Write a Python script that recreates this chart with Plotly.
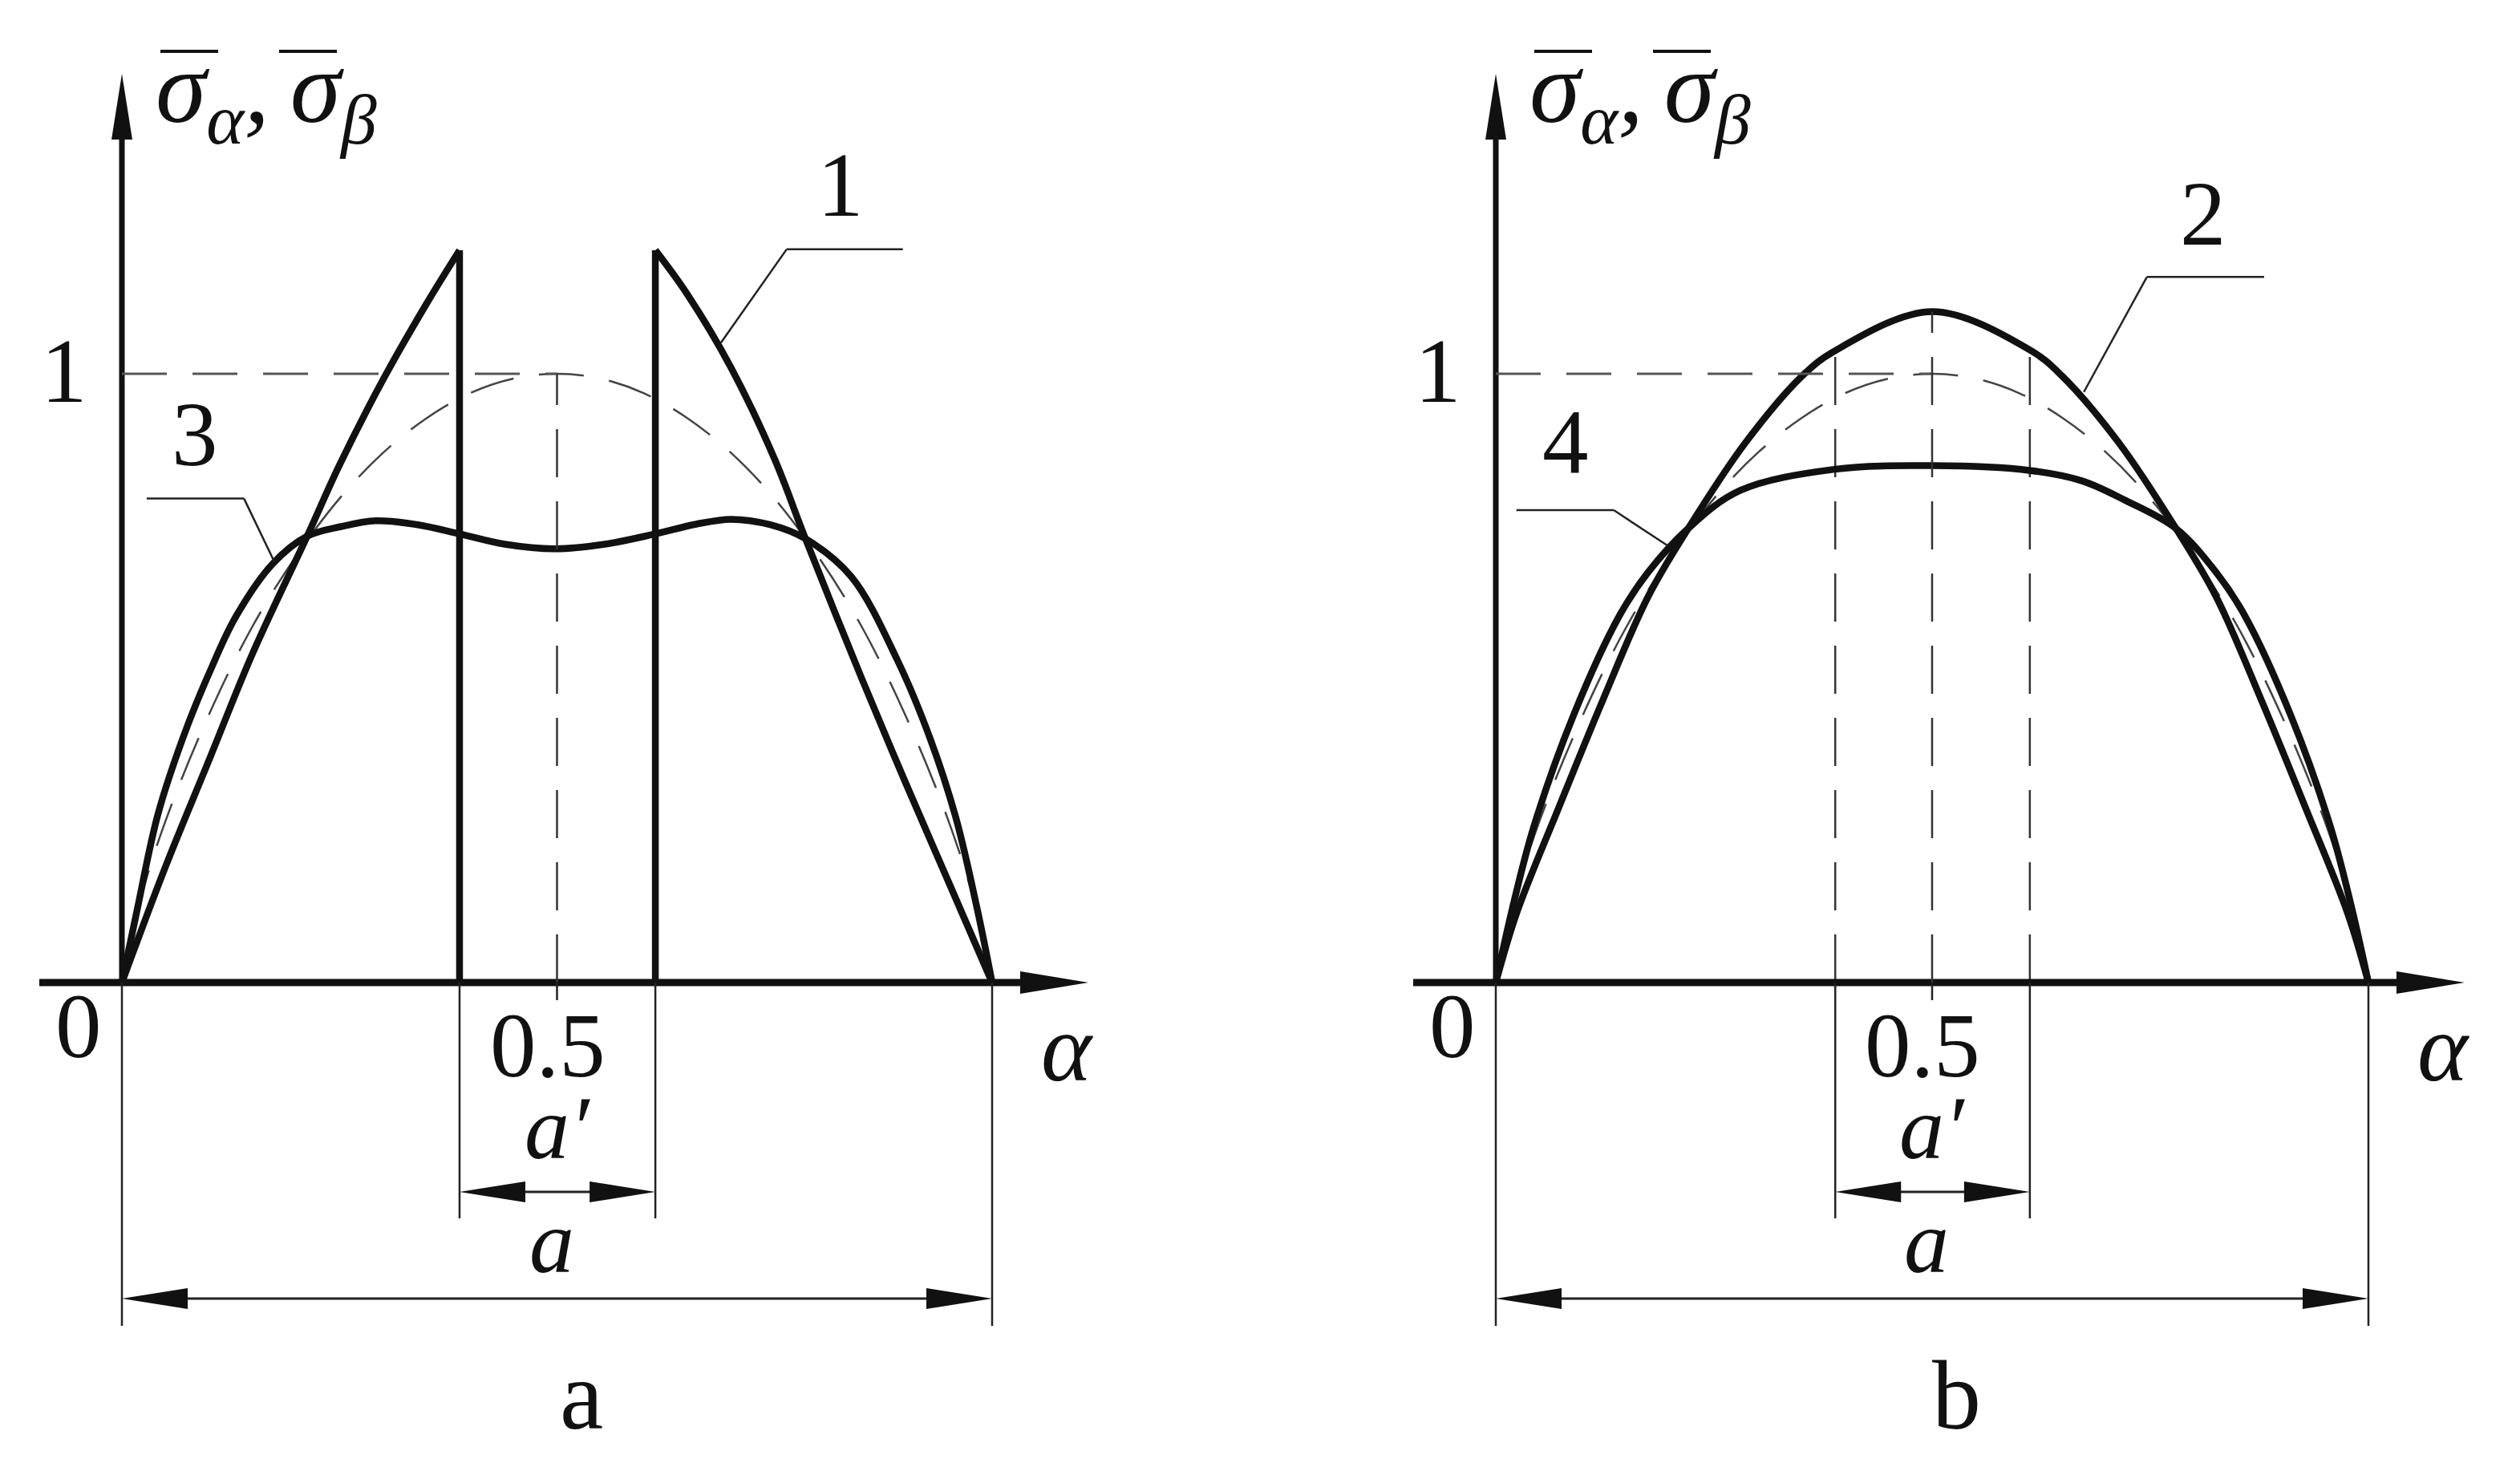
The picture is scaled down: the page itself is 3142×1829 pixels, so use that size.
import plotly.graph_objects as go

# ---------------- data ----------------
# dashed reference curve (same in both panels)
ref_alpha = [0, 0.02, 0.05, 0.10, 0.15, 0.20, 0.25, 0.30, 0.35, 0.40, 0.45, 0.50,
             0.55, 0.60, 0.65, 0.70, 0.75, 0.80, 0.85, 0.90, 0.95, 0.98, 1.0]
ref_sigma = [0, 0.13, 0.265, 0.44, 0.585, 0.70, 0.795, 0.87, 0.927, 0.968, 0.992, 1.0,
             0.992, 0.968, 0.927, 0.87, 0.795, 0.70, 0.585, 0.44, 0.265, 0.13, 0]

# curve 1 (panel a): rising part, gap a', falling part
c1_rise_alpha = [0, 0.05, 0.10, 0.15, 0.2128, 0.25, 0.30, 0.35, 0.388]
c1_rise_sigma = [0, 0.19, 0.365, 0.54, 0.733, 0.85, 0.99, 1.115, 1.203]
c1_fall_alpha = [0.613, 0.65, 0.70, 0.75, 0.7855, 0.85, 0.90, 0.95, 1.0]
c1_fall_sigma = [1.203, 1.13, 1.01, 0.86, 0.729, 0.50, 0.33, 0.165, 0]

# curve 3 (panel a)
c3_alpha = [0, 0.017, 0.0415, 0.0712, 0.1008, 0.1305, 0.1733, 0.2128, 0.252, 0.2918,
            0.34, 0.388, 0.44, 0.4975, 0.555, 0.613, 0.66, 0.6999, 0.745, 0.7855,
            0.838, 0.891, 0.929, 0.9585, 0.983, 1.0]
c3_sigma = [0, 0.116, 0.277, 0.406, 0.51, 0.600, 0.688, 0.733, 0.749, 0.7585,
            0.752, 0.737, 0.72, 0.7125, 0.72, 0.737, 0.753, 0.761, 0.752, 0.729,
            0.667, 0.53, 0.40, 0.27, 0.12, 0]

# curve 2 (panel b)
c2_alpha = [0, 0.0236, 0.0729, 0.1221, 0.1746, 0.2206, 0.2862, 0.3519, 0.3879, 0.5,
            0.6121, 0.6481, 0.7138, 0.7794, 0.8254, 0.8779, 0.9271, 0.9764, 1.0]
c2_sigma = [0, 0.113, 0.29, 0.462, 0.634, 0.746, 0.887, 0.9975, 1.037, 1.102,
            1.039, 0.9975, 0.887, 0.746, 0.634, 0.462, 0.29, 0.113, 0]

# curve 4 (panel b)
c4_alpha = [0, 0.0187, 0.0433, 0.0893, 0.1418, 0.1746, 0.2206, 0.2797, 0.3879, 0.5,
            0.613, 0.672, 0.7215, 0.7794, 0.8254, 0.8582, 0.9107, 0.9567, 0.9813, 1.0]
c4_sigma = [0, 0.12, 0.255, 0.44, 0.603, 0.674, 0.746, 0.808, 0.843, 0.849,
            0.841, 0.824, 0.792, 0.746, 0.674, 0.603, 0.44, 0.255, 0.12, 0]

# gap a' limits
gap_a = [0.388, 0.613]        # panel a
gap_b = [0.389, 0.612]        # panel b

# ---------------- layout geometry ----------------
W, H = 3142, 1829
PY0, PY1 = 1225, 466                 # pixel rows of sigma=0 and sigma=1
SCALE = {'x': 1085.0, 'x2': 1088.0}  # pixels per alpha unit
X0PIX = {'x': 152.0, 'x2': 1865.0}   # pixel column of alpha=0
YS = PY0 - PY1                       # pixels per sigma unit
half = W / 2

xr_L = [-X0PIX['x'] / SCALE['x'], (half - X0PIX['x']) / SCALE['x']]
xr_R = [-(X0PIX['x2'] - half) / SCALE['x2'], (W - X0PIX['x2']) / SCALE['x2']]
yr = [-(H - PY0) / YS, PY0 / YS]

def dx(px, xr):  # pixels -> alpha units
    return px / SCALE[xr]

def dy(px):
    return px / YS

BLACK = '#111111'
FONT = 'Liberation Serif'
THICK = 8.5

fig = go.Figure()

def add_line(xs, ys, xref, width=THICK, dash=None, color=BLACK, shape='linear'):
    fig.add_trace(go.Scatter(
        x=xs, y=ys, mode='lines', xaxis=xref, yaxis='y',
        line=dict(color=color, width=width, dash=dash, shape=shape, smoothing=1.0),
        hoverinfo='skip', showlegend=False))

DASH = '56px,32px'

# ---- panel a ----
add_line(ref_alpha, ref_sigma, 'x', width=2.5, dash=DASH, color='#444444', shape='spline')
add_line(c1_rise_alpha, c1_rise_sigma, 'x', shape='spline')
add_line([gap_a[0], gap_a[0]], [c1_rise_sigma[-1], 0], 'x')
add_line([gap_a[1], gap_a[1]], [0, c1_fall_sigma[0]], 'x')
add_line(c1_fall_alpha, c1_fall_sigma, 'x', shape='spline')
add_line(c3_alpha, c3_sigma, 'x', shape='spline')

# ---- panel b ----
add_line(ref_alpha, ref_sigma, 'x2', width=2.5, dash=DASH, color='#444444', shape='spline')
add_line([gap_b[0], gap_b[0]], [0, c2_sigma[8]], 'x2', width=2.5, dash='60px,30px', color='#333333')
add_line([gap_b[1], gap_b[1]], [0, c2_sigma[10]], 'x2', width=2.5, dash='60px,30px', color='#333333')
add_line(c2_alpha, c2_sigma, 'x2', shape='spline')
add_line(c4_alpha, c4_sigma, 'x2', shape='spline')

shapes = []
annotations = []

def seg(xref, x0, y0, x1, y1, width=2.5, color='#222222', dash=None):
    shapes.append(dict(type='line', xref=xref, yref='y', x0=x0, y0=y0, x1=x1, y1=y1,
                       line=dict(color=color, width=width, dash=dash), layer='above'))

def tri(xref, tx, ty, direction, length=80, halfw=12):
    L = dx(length, xref) if direction in ('left', 'right') else dy(length)
    if direction == 'right':
        pts = [(tx, ty), (tx - L, ty + dy(halfw)), (tx - L, ty - dy(halfw))]
    elif direction == 'left':
        pts = [(tx, ty), (tx + L, ty + dy(halfw)), (tx + L, ty - dy(halfw))]
    else:  # up
        pts = [(tx, ty), (tx - dx(halfw, xref), ty - L), (tx + dx(halfw, xref), ty - L)]
    path = 'M ' + ' L '.join(f'{p[0]},{p[1]}' for p in pts) + ' Z'
    shapes.append(dict(type='path', xref=xref, yref='y', path=path,
                       fillcolor=BLACK, line=dict(width=0), layer='above'))

def text(xref, x, y, s, size=115, xanchor='center', yanchor='middle'):
    annotations.append(dict(xref=xref, yref='y', x=x, y=y, text=s, showarrow=False,
                            xanchor=xanchor, yanchor=yanchor,
                            font=dict(family=FONT, size=size, color=BLACK)))

def panel(xref, gap, peak_mid, lbl_sub):
    # axes
    y_top = dy(PY0 - 92)
    seg(xref, 0, 0, 0, y_top - dy(60), width=7, color=BLACK)
    tri(xref, 0, y_top, 'up', length=82, halfw=13)
    x_start = -dx(103, xref)
    x_tip = 1 + dx(120, xref)
    seg(xref, x_start, 0, x_tip - dx(60, xref), 0, width=9, color=BLACK)
    tri(xref, x_tip, 0, 'right', length=85, halfw=14)
    # dashed reference lines
    seg(xref, 0, 1, 0.5, 1, width=3, color='#555555', dash=DASH)
    seg(xref, 0.5, 0, 0.5, peak_mid, width=2.5, color='#333333', dash='60px,30px')
    seg(xref, 0.5, 0, 0.5, -dy(22), width=2.5)
    # dimension (extension) lines
    y_outer = -dy(1653 - PY0)
    y_inner = -dy(1519 - PY0)
    seg(xref, 0, 0, 0, y_outer)
    seg(xref, 1, 0, 1, y_outer)
    seg(xref, gap[0], 0, gap[0], y_inner)
    seg(xref, gap[1], 0, gap[1], y_inner)
    # dimension arrows
    ya1 = -dy(1486 - PY0)
    seg(xref, gap[0] + dx(40, xref), ya1, gap[1] - dx(40, xref), ya1, width=3)
    tri(xref, gap[0], ya1, 'left', length=82, halfw=13)
    tri(xref, gap[1], ya1, 'right', length=82, halfw=13)
    ya2 = -dy(1619 - PY0)
    seg(xref, dx(40, xref), ya2, 1 - dx(40, xref), ya2, width=3)
    tri(xref, 0, ya2, 'left', length=82, halfw=13)
    tri(xref, 1, ya2, 'right', length=82, halfw=13)
    # texts
    text(xref, -0.066, 1.005, '1')
    text(xref, -0.05, -0.072, '0')
    text(xref, 0.489, -0.103, '0.5')
    text(xref, 1.086, -0.108, '<i>α</i>', size=120)
    text(xref, 0.50, -0.238, '<i>a′</i>', size=112)
    text(xref, 0.494, -0.425, '<i>a</i>', size=112)
    text(xref, 0.528, -0.678, lbl_sub, size=122)
    # y label  (sigma with overline bars)
    text(xref, dx(192 - 152, xref), dy(PY0 - 118),
         '<i>σ</i><sub><i>α</i></sub><i>,\u2009</i><i>σ</i><sub><i>β</i></sub>',
         size=128, xanchor='left')
    bar_y = dy(PY0 - 64)
    seg(xref, dx(48, xref), bar_y, dx(120, xref), bar_y, width=4, color=BLACK)
    seg(xref, dx(196, xref), bar_y, dx(268, xref), bar_y, width=4, color=BLACK)

panel('x', gap_a, 1.0, 'a')
panel('x2', gap_b, c2_sigma[9], 'b')

# curve labels with leader lines (horizontal part, then slanted part to the curve)
def leader(xref, num, lx, ly, h_from, h_to, hy, ex, ey, corner):
    text(xref, lx, ly, num)
    seg(xref, h_from, hy, h_to, hy)
    seg(xref, corner, hy, ex, ey)

leader('x', '3', 0.0835, 0.90, 0.0285, 0.1403, 0.795, 0.1749, 0.692, 0.1403)
leader('x', '1', 0.826, 1.31, 0.764, 0.8974, 1.2047, 0.6884, 1.051, 0.764)
leader('x2', '4', 0.080, 0.887, 0.0236, 0.1352, 0.776, 0.1976, 0.717, 0.1352)
leader('x2', '2', 0.8107, 1.2635, 0.7461, 0.8805, 1.159, 0.6739, 0.970, 0.7461)

fig.update_layout(
    width=W, height=H,
    margin=dict(l=0, r=0, t=0, b=0),
    paper_bgcolor='white', plot_bgcolor='white',
    showlegend=False,
    xaxis=dict(domain=[0, 0.5], range=xr_L, visible=False, fixedrange=True),
    xaxis2=dict(domain=[0.5, 1], range=xr_R, visible=False, anchor='y', fixedrange=True),
    yaxis=dict(domain=[0, 1], range=yr, visible=False, fixedrange=True),
    shapes=shapes,
    annotations=annotations,
)

fig.write_html("out.html", config={'displayModeBar': False},
               post_script="document.body.style.margin='0';document.body.style.overflow='hidden';")
